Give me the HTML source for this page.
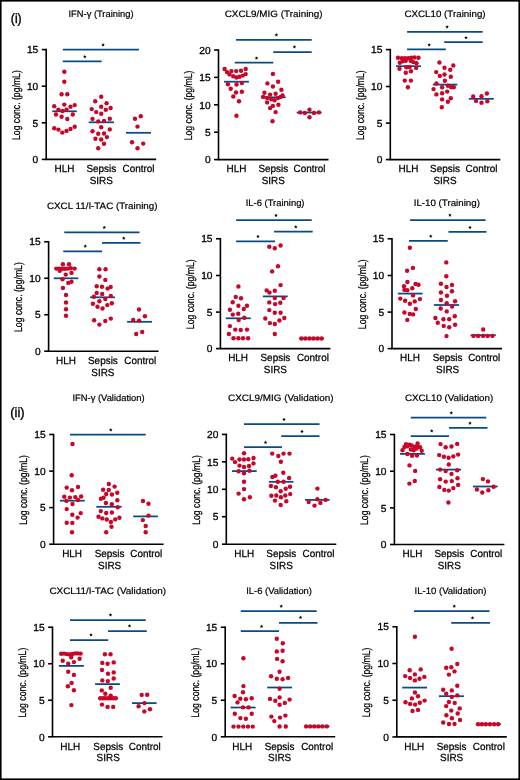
<!DOCTYPE html>
<html><head><meta charset="utf-8"><style>
html,body{margin:0;padding:0;background:#fff;}
svg{display:block;will-change:transform;}
text{font-family:"Liberation Sans",sans-serif;fill:#000;stroke:#000;text-rendering:geometricPrecision;}
circle{fill:#c80628;}
</style></head><body>
<svg width="520" height="780" viewBox="0 0 520 780">
<defs><polygon id="star" points="0.00,-1.90 0.50,-0.69 1.81,-0.59 0.81,0.26 1.12,1.54 0.00,0.85 -1.12,1.54 -0.81,0.26 -1.81,-0.59 -0.50,-0.69" fill="#000"/></defs>
<rect x="0" y="0" width="520" height="780" fill="#fff"/>
<text transform="translate(10.8,22.6) scale(0.225,0.25)" font-size="54.4" style="stroke-width:1.6px">(i)</text>
<text transform="translate(10.3,416.9) scale(0.237,0.25)" font-size="54.4" style="stroke-width:1.6px">(ii)</text>
<g><text transform="translate(68.5,17) scale(0.25,0.25)" font-size="37.2" textLength="260" lengthAdjust="spacingAndGlyphs" style="stroke-width:0.8px">IFN-γ (Training)</text>
<text transform="translate(19.7,105.1) rotate(-90) scale(0.25,0.25)" font-size="44" text-anchor="middle" textLength="279.2" lengthAdjust="spacingAndGlyphs" style="stroke-width:1px">Log conc. (pg/mL)</text>
<text transform="translate(38.3,53.3) scale(0.25,0.25)" font-size="40.8" text-anchor="end" style="stroke-width:1.2px">15</text>
<line x1="41.8" y1="49.6" x2="46.2" y2="49.6" stroke="#000" stroke-width="1.6"/>
<text transform="translate(38.3,89.9) scale(0.25,0.25)" font-size="40.8" text-anchor="end" style="stroke-width:1.2px">10</text>
<line x1="41.8" y1="86.2" x2="46.2" y2="86.2" stroke="#000" stroke-width="1.6"/>
<text transform="translate(38.3,126.5) scale(0.25,0.25)" font-size="40.8" text-anchor="end" style="stroke-width:1.2px">5</text>
<line x1="41.8" y1="122.8" x2="46.2" y2="122.8" stroke="#000" stroke-width="1.6"/>
<text transform="translate(38.3,163.1) scale(0.25,0.25)" font-size="40.8" text-anchor="end" style="stroke-width:1.2px">0</text>
<line x1="41.8" y1="159.4" x2="46.2" y2="159.4" stroke="#000" stroke-width="1.6"/>
<line x1="46.2" y1="48.85" x2="46.2" y2="159.4" stroke="#000" stroke-width="1.6"/>
<line x1="45.45" y1="159.4" x2="156.2" y2="159.4" stroke="#000" stroke-width="1.6"/>
<text transform="translate(64.45,172.1) scale(0.241,0.25)" font-size="41.2" text-anchor="middle" style="stroke-width:1px">HLH</text>
<text transform="translate(101.3,172.1) scale(0.241,0.25)" font-size="41.2" text-anchor="middle" style="stroke-width:1px">Sepsis</text>
<text transform="translate(138.5,172.1) scale(0.241,0.25)" font-size="41.2" text-anchor="middle" style="stroke-width:1px">Control</text>
<text transform="translate(101.3,183.8) scale(0.241,0.25)" font-size="41.2" text-anchor="middle" style="stroke-width:1px">SIRS</text>
<line x1="62.8" y1="49.7" x2="138.9" y2="49.7" stroke="#0a4a84" stroke-width="1.75"/>
<use href="#star" x="103.1" y="45"/>
<line x1="62.8" y1="61.3" x2="101.7" y2="61.3" stroke="#0a4a84" stroke-width="1.75"/>
<use href="#star" x="84.8" y="56.6"/>
<line x1="52.2" y1="111.3" x2="76.8" y2="111.3" stroke="#0a4a84" stroke-width="1.75"/>
<line x1="88.7" y1="122.3" x2="114" y2="122.3" stroke="#0a4a84" stroke-width="1.75"/>
<line x1="126" y1="132.8" x2="151" y2="132.8" stroke="#0a4a84" stroke-width="1.75"/>
<circle cx="64.3" cy="71.8" r="2.2"/>
<circle cx="64.3" cy="81.8" r="2.2"/>
<circle cx="61.6" cy="94.2" r="2.2"/>
<circle cx="67.3" cy="94.2" r="2.2"/>
<circle cx="54.2" cy="106.2" r="2.2"/>
<circle cx="64.3" cy="104.6" r="2.2"/>
<circle cx="70.5" cy="106.7" r="2.2"/>
<circle cx="74.7" cy="105.1" r="2.2"/>
<circle cx="58.4" cy="109.6" r="2.2"/>
<circle cx="62.5" cy="111" r="2.2"/>
<circle cx="66.5" cy="109.7" r="2.2"/>
<circle cx="56" cy="114.5" r="2.2"/>
<circle cx="72.8" cy="114.5" r="2.2"/>
<circle cx="61.6" cy="116.8" r="2.2"/>
<circle cx="67.3" cy="119" r="2.2"/>
<circle cx="54.2" cy="128.3" r="2.2"/>
<circle cx="58.4" cy="129.6" r="2.2"/>
<circle cx="62.3" cy="132.6" r="2.2"/>
<circle cx="66.5" cy="130.9" r="2.2"/>
<circle cx="70.5" cy="129" r="2.2"/>
<circle cx="74.7" cy="126.8" r="2.2"/>
<circle cx="101.2" cy="96.7" r="2.2"/>
<circle cx="95.2" cy="101.3" r="2.2"/>
<circle cx="106.6" cy="103.2" r="2.2"/>
<circle cx="91.7" cy="109.1" r="2.2"/>
<circle cx="101.2" cy="106.8" r="2.2"/>
<circle cx="105.8" cy="109.8" r="2.2"/>
<circle cx="110.6" cy="108" r="2.2"/>
<circle cx="96.2" cy="112.1" r="2.2"/>
<circle cx="101.2" cy="113.7" r="2.2"/>
<circle cx="92.5" cy="118.9" r="2.2"/>
<circle cx="98.2" cy="121.4" r="2.2"/>
<circle cx="104" cy="121" r="2.2"/>
<circle cx="109.8" cy="118.7" r="2.2"/>
<circle cx="101.2" cy="127.3" r="2.2"/>
<circle cx="92.5" cy="131.3" r="2.2"/>
<circle cx="109.8" cy="129.4" r="2.2"/>
<circle cx="98.2" cy="133.7" r="2.2"/>
<circle cx="104" cy="133.5" r="2.2"/>
<circle cx="106.9" cy="137.1" r="2.2"/>
<circle cx="95.4" cy="138.7" r="2.2"/>
<circle cx="101.2" cy="139.5" r="2.2"/>
<circle cx="104" cy="143.7" r="2.2"/>
<circle cx="98.2" cy="148.3" r="2.2"/>
<circle cx="135" cy="118.8" r="2.2"/>
<circle cx="140.8" cy="116.2" r="2.2"/>
<circle cx="137.5" cy="126.6" r="2.2"/>
<circle cx="132" cy="142.2" r="2.2"/>
<circle cx="143.2" cy="143.6" r="2.2"/>
<circle cx="137.5" cy="148.3" r="2.2"/></g>
<g><text transform="translate(224.7,17.1) scale(0.25,0.25)" font-size="37.2" textLength="391.6" lengthAdjust="spacingAndGlyphs" style="stroke-width:0.8px">CXCL9/MIG (Training)</text>
<text transform="translate(192,105.4) rotate(-90) scale(0.25,0.25)" font-size="44" text-anchor="middle" textLength="279.2" lengthAdjust="spacingAndGlyphs" style="stroke-width:1px">Log conc. (pg/mL)</text>
<text transform="translate(210.6,53.7) scale(0.25,0.25)" font-size="40.8" text-anchor="end" style="stroke-width:1.2px">20</text>
<line x1="214.1" y1="50" x2="218.5" y2="50" stroke="#000" stroke-width="1.6"/>
<text transform="translate(210.6,81.05) scale(0.25,0.25)" font-size="40.8" text-anchor="end" style="stroke-width:1.2px">15</text>
<line x1="214.1" y1="77.35" x2="218.5" y2="77.35" stroke="#000" stroke-width="1.6"/>
<text transform="translate(210.6,108.5) scale(0.25,0.25)" font-size="40.8" text-anchor="end" style="stroke-width:1.2px">10</text>
<line x1="214.1" y1="104.8" x2="218.5" y2="104.8" stroke="#000" stroke-width="1.6"/>
<text transform="translate(210.6,135.9) scale(0.25,0.25)" font-size="40.8" text-anchor="end" style="stroke-width:1.2px">5</text>
<line x1="214.1" y1="132.2" x2="218.5" y2="132.2" stroke="#000" stroke-width="1.6"/>
<text transform="translate(210.6,163.3) scale(0.25,0.25)" font-size="40.8" text-anchor="end" style="stroke-width:1.2px">0</text>
<line x1="214.1" y1="159.6" x2="218.5" y2="159.6" stroke="#000" stroke-width="1.6"/>
<line x1="218.5" y1="49.25" x2="218.5" y2="159.6" stroke="#000" stroke-width="1.6"/>
<line x1="217.75" y1="159.6" x2="328.5" y2="159.6" stroke="#000" stroke-width="1.6"/>
<text transform="translate(236.5,172.3) scale(0.241,0.25)" font-size="41.2" text-anchor="middle" style="stroke-width:1px">HLH</text>
<text transform="translate(273.3,172.3) scale(0.241,0.25)" font-size="41.2" text-anchor="middle" style="stroke-width:1px">Sepsis</text>
<text transform="translate(309.5,172.3) scale(0.241,0.25)" font-size="41.2" text-anchor="middle" style="stroke-width:1px">Control</text>
<text transform="translate(273.3,184) scale(0.241,0.25)" font-size="41.2" text-anchor="middle" style="stroke-width:1px">SIRS</text>
<line x1="236.1" y1="39.9" x2="311.7" y2="39.9" stroke="#0a4a84" stroke-width="1.75"/>
<use href="#star" x="276.4" y="35"/>
<line x1="273.3" y1="52.2" x2="311.7" y2="52.2" stroke="#0a4a84" stroke-width="1.75"/>
<use href="#star" x="294.4" y="47"/>
<line x1="234.8" y1="62.7" x2="273.3" y2="62.7" stroke="#0a4a84" stroke-width="1.75"/>
<use href="#star" x="256.5" y="58.2"/>
<line x1="224" y1="81.7" x2="248.9" y2="81.7" stroke="#0a4a84" stroke-width="1.75"/>
<line x1="261" y1="97.3" x2="285.7" y2="97.3" stroke="#0a4a84" stroke-width="1.75"/>
<line x1="296.7" y1="112.6" x2="321.6" y2="112.6" stroke="#0a4a84" stroke-width="1.75"/>
<circle cx="224.6" cy="69" r="2.2"/>
<circle cx="227" cy="72.1" r="2.2"/>
<circle cx="231.4" cy="71.1" r="2.2"/>
<circle cx="236.2" cy="71.1" r="2.2"/>
<circle cx="241" cy="70.8" r="2.2"/>
<circle cx="245.7" cy="69" r="2.2"/>
<circle cx="229.5" cy="74.4" r="2.2"/>
<circle cx="233.3" cy="76.2" r="2.2"/>
<circle cx="236.5" cy="77.5" r="2.2"/>
<circle cx="239.5" cy="76.7" r="2.2"/>
<circle cx="242.7" cy="75.6" r="2.2"/>
<circle cx="245.7" cy="74.1" r="2.2"/>
<circle cx="227.9" cy="84.2" r="2.2"/>
<circle cx="236.5" cy="84.5" r="2.2"/>
<circle cx="241.9" cy="83.1" r="2.2"/>
<circle cx="230.7" cy="88.8" r="2.2"/>
<circle cx="236" cy="92.5" r="2.2"/>
<circle cx="241.9" cy="91.7" r="2.2"/>
<circle cx="233.3" cy="96.5" r="2.2"/>
<circle cx="239" cy="101.3" r="2.2"/>
<circle cx="236.5" cy="115.7" r="2.2"/>
<circle cx="272.9" cy="73.9" r="2.2"/>
<circle cx="267.4" cy="83.4" r="2.2"/>
<circle cx="278.1" cy="81.7" r="2.2"/>
<circle cx="272.9" cy="86.5" r="2.2"/>
<circle cx="281.4" cy="89.8" r="2.2"/>
<circle cx="264.4" cy="92.7" r="2.2"/>
<circle cx="270.1" cy="94.6" r="2.2"/>
<circle cx="275.6" cy="93.8" r="2.2"/>
<circle cx="282.6" cy="95.4" r="2.2"/>
<circle cx="263.1" cy="96.9" r="2.2"/>
<circle cx="267.1" cy="98" r="2.2"/>
<circle cx="271.2" cy="99.3" r="2.2"/>
<circle cx="274.5" cy="100.3" r="2.2"/>
<circle cx="277.9" cy="98" r="2.2"/>
<circle cx="280.6" cy="96.9" r="2.2"/>
<circle cx="267.1" cy="102.4" r="2.2"/>
<circle cx="278.4" cy="104.8" r="2.2"/>
<circle cx="272.9" cy="105.9" r="2.2"/>
<circle cx="270.1" cy="108.1" r="2.2"/>
<circle cx="275.6" cy="112.1" r="2.2"/>
<circle cx="272.5" cy="121.3" r="2.2"/>
<circle cx="300.2" cy="112.4" r="2.2"/>
<circle cx="304.8" cy="112.9" r="2.2"/>
<circle cx="309.5" cy="109.7" r="2.2"/>
<circle cx="314" cy="112.9" r="2.2"/>
<circle cx="318.9" cy="112.4" r="2.2"/>
<circle cx="309.5" cy="117.2" r="2.2"/></g>
<g><text transform="translate(404.4,17.1) scale(0.25,0.25)" font-size="37.2" textLength="324.8" lengthAdjust="spacingAndGlyphs" style="stroke-width:0.8px">CXCL10 (Training)</text>
<text transform="translate(363.8,105.2) rotate(-90) scale(0.25,0.25)" font-size="44" text-anchor="middle" textLength="279.2" lengthAdjust="spacingAndGlyphs" style="stroke-width:1px">Log conc. (pg/mL)</text>
<text transform="translate(382.4,53.3) scale(0.25,0.25)" font-size="40.8" text-anchor="end" style="stroke-width:1.2px">15</text>
<line x1="385.9" y1="49.6" x2="390.3" y2="49.6" stroke="#000" stroke-width="1.6"/>
<text transform="translate(382.4,90.2) scale(0.25,0.25)" font-size="40.8" text-anchor="end" style="stroke-width:1.2px">10</text>
<line x1="385.9" y1="86.5" x2="390.3" y2="86.5" stroke="#000" stroke-width="1.6"/>
<text transform="translate(382.4,126.8) scale(0.25,0.25)" font-size="40.8" text-anchor="end" style="stroke-width:1.2px">5</text>
<line x1="385.9" y1="123.1" x2="390.3" y2="123.1" stroke="#000" stroke-width="1.6"/>
<text transform="translate(382.4,163.3) scale(0.25,0.25)" font-size="40.8" text-anchor="end" style="stroke-width:1.2px">0</text>
<line x1="385.9" y1="159.6" x2="390.3" y2="159.6" stroke="#000" stroke-width="1.6"/>
<line x1="390.3" y1="48.85" x2="390.3" y2="159.6" stroke="#000" stroke-width="1.6"/>
<line x1="389.55" y1="159.6" x2="500.3" y2="159.6" stroke="#000" stroke-width="1.6"/>
<text transform="translate(408.5,172.3) scale(0.241,0.25)" font-size="41.2" text-anchor="middle" style="stroke-width:1px">HLH</text>
<text transform="translate(445,172.3) scale(0.241,0.25)" font-size="41.2" text-anchor="middle" style="stroke-width:1px">Sepsis</text>
<text transform="translate(481.5,172.3) scale(0.241,0.25)" font-size="41.2" text-anchor="middle" style="stroke-width:1px">Control</text>
<text transform="translate(445,184) scale(0.241,0.25)" font-size="41.2" text-anchor="middle" style="stroke-width:1px">SIRS</text>
<line x1="407.1" y1="31.9" x2="482.7" y2="31.9" stroke="#0a4a84" stroke-width="1.75"/>
<use href="#star" x="447.1" y="26.9"/>
<line x1="444.2" y1="42.1" x2="482.7" y2="42.1" stroke="#0a4a84" stroke-width="1.75"/>
<use href="#star" x="466" y="37.7"/>
<line x1="407.1" y1="49.4" x2="445.8" y2="49.4" stroke="#0a4a84" stroke-width="1.75"/>
<use href="#star" x="429.2" y="45"/>
<line x1="396" y1="66.2" x2="421" y2="66.2" stroke="#0a4a84" stroke-width="1.75"/>
<line x1="432.8" y1="84.6" x2="457.3" y2="84.6" stroke="#0a4a84" stroke-width="1.75"/>
<line x1="468.8" y1="98.8" x2="493.8" y2="98.8" stroke="#0a4a84" stroke-width="1.75"/>
<circle cx="398" cy="57.8" r="2.2"/>
<circle cx="401.8" cy="58.3" r="2.2"/>
<circle cx="405" cy="58.3" r="2.2"/>
<circle cx="408.2" cy="58.1" r="2.2"/>
<circle cx="411.3" cy="57.8" r="2.2"/>
<circle cx="414.5" cy="57.5" r="2.2"/>
<circle cx="418.5" cy="57.8" r="2.2"/>
<circle cx="399.8" cy="62.7" r="2.2"/>
<circle cx="402.7" cy="61.2" r="2.2"/>
<circle cx="405.8" cy="60.7" r="2.2"/>
<circle cx="410.7" cy="60.7" r="2.2"/>
<circle cx="413.3" cy="62.1" r="2.2"/>
<circle cx="416.5" cy="63.3" r="2.2"/>
<circle cx="399.5" cy="68.7" r="2.2"/>
<circle cx="406.4" cy="67.3" r="2.2"/>
<circle cx="409.6" cy="67" r="2.2"/>
<circle cx="416.2" cy="67.9" r="2.2"/>
<circle cx="405.8" cy="72.8" r="2.2"/>
<circle cx="411" cy="71.3" r="2.2"/>
<circle cx="404.8" cy="80.6" r="2.2"/>
<circle cx="410.9" cy="80.6" r="2.2"/>
<circle cx="407.9" cy="87.3" r="2.2"/>
<circle cx="439.4" cy="62.5" r="2.2"/>
<circle cx="444.5" cy="67.8" r="2.2"/>
<circle cx="453.3" cy="65.5" r="2.2"/>
<circle cx="450.2" cy="69.8" r="2.2"/>
<circle cx="436.2" cy="72.1" r="2.2"/>
<circle cx="444.5" cy="74.5" r="2.2"/>
<circle cx="439.8" cy="75.9" r="2.2"/>
<circle cx="450.8" cy="76.8" r="2.2"/>
<circle cx="444.9" cy="80.8" r="2.2"/>
<circle cx="436.4" cy="83.5" r="2.2"/>
<circle cx="447.9" cy="85.7" r="2.2"/>
<circle cx="451.2" cy="87.3" r="2.2"/>
<circle cx="453.8" cy="87.3" r="2.2"/>
<circle cx="442.1" cy="87.3" r="2.2"/>
<circle cx="433.5" cy="89.1" r="2.2"/>
<circle cx="447.2" cy="91.6" r="2.2"/>
<circle cx="442.1" cy="93.2" r="2.2"/>
<circle cx="436.4" cy="94.4" r="2.2"/>
<circle cx="442.1" cy="99.4" r="2.2"/>
<circle cx="450.8" cy="98.3" r="2.2"/>
<circle cx="447.9" cy="101.8" r="2.2"/>
<circle cx="441.8" cy="107.2" r="2.2"/>
<circle cx="473.2" cy="96.5" r="2.2"/>
<circle cx="476" cy="100.9" r="2.2"/>
<circle cx="481.5" cy="96.2" r="2.2"/>
<circle cx="481.5" cy="102.7" r="2.2"/>
<circle cx="486.9" cy="93.5" r="2.2"/>
<circle cx="487.3" cy="101.2" r="2.2"/></g>
<g><text transform="translate(47,208.75) scale(0.25,0.25)" font-size="37.2" textLength="442" lengthAdjust="spacingAndGlyphs" style="stroke-width:0.8px">CXCL 11/I-TAC (Training)</text>
<text transform="translate(22.1,297.075) rotate(-90) scale(0.25,0.25)" font-size="44" text-anchor="middle" textLength="279.2" lengthAdjust="spacingAndGlyphs" style="stroke-width:1px">Log conc. (pg/mL)</text>
<text transform="translate(40.7,245.45) scale(0.25,0.25)" font-size="40.8" text-anchor="end" style="stroke-width:1.2px">15</text>
<line x1="44.2" y1="241.75" x2="48.6" y2="241.75" stroke="#000" stroke-width="1.6"/>
<text transform="translate(40.7,281.95) scale(0.25,0.25)" font-size="40.8" text-anchor="end" style="stroke-width:1.2px">10</text>
<line x1="44.2" y1="278.25" x2="48.6" y2="278.25" stroke="#000" stroke-width="1.6"/>
<text transform="translate(40.7,318.45) scale(0.25,0.25)" font-size="40.8" text-anchor="end" style="stroke-width:1.2px">5</text>
<line x1="44.2" y1="314.75" x2="48.6" y2="314.75" stroke="#000" stroke-width="1.6"/>
<text transform="translate(40.7,354.9) scale(0.25,0.25)" font-size="40.8" text-anchor="end" style="stroke-width:1.2px">0</text>
<line x1="44.2" y1="351.2" x2="48.6" y2="351.2" stroke="#000" stroke-width="1.6"/>
<line x1="48.6" y1="241" x2="48.6" y2="351.2" stroke="#000" stroke-width="1.6"/>
<line x1="47.85" y1="351.2" x2="158.6" y2="351.2" stroke="#000" stroke-width="1.6"/>
<text transform="translate(66,363.9) scale(0.241,0.25)" font-size="41.2" text-anchor="middle" style="stroke-width:1px">HLH</text>
<text transform="translate(102.9,363.9) scale(0.241,0.25)" font-size="41.2" text-anchor="middle" style="stroke-width:1px">Sepsis</text>
<text transform="translate(140.25,363.9) scale(0.241,0.25)" font-size="41.2" text-anchor="middle" style="stroke-width:1px">Control</text>
<text transform="translate(102.9,375.6) scale(0.241,0.25)" font-size="41.2" text-anchor="middle" style="stroke-width:1px">SIRS</text>
<line x1="64.25" y1="232.25" x2="139.5" y2="232.25" stroke="#0a4a84" stroke-width="1.75"/>
<use href="#star" x="104.25" y="227.5"/>
<line x1="102" y1="242.75" x2="140.5" y2="242.75" stroke="#0a4a84" stroke-width="1.75"/>
<use href="#star" x="123.75" y="238.25"/>
<line x1="63.25" y1="251.25" x2="102" y2="251.25" stroke="#0a4a84" stroke-width="1.75"/>
<use href="#star" x="85.25" y="246.25"/>
<line x1="53.75" y1="278.3" x2="78.3" y2="278.3" stroke="#0a4a84" stroke-width="1.75"/>
<line x1="90.1" y1="297.3" x2="114.9" y2="297.3" stroke="#0a4a84" stroke-width="1.75"/>
<line x1="127.1" y1="321.8" x2="152" y2="321.8" stroke="#0a4a84" stroke-width="1.75"/>
<circle cx="62.9" cy="264.3" r="2.2"/>
<circle cx="69" cy="264.3" r="2.2"/>
<circle cx="56.25" cy="268.6" r="2.2"/>
<circle cx="59.2" cy="268.8" r="2.2"/>
<circle cx="62.1" cy="268.8" r="2.2"/>
<circle cx="65" cy="268.8" r="2.2"/>
<circle cx="67.9" cy="268.6" r="2.2"/>
<circle cx="70.8" cy="268.3" r="2.2"/>
<circle cx="74.6" cy="268.6" r="2.2"/>
<circle cx="59.8" cy="270.8" r="2.2"/>
<circle cx="65.8" cy="274.6" r="2.2"/>
<circle cx="71.5" cy="272.9" r="2.2"/>
<circle cx="62.5" cy="279.2" r="2.2"/>
<circle cx="68.3" cy="282.9" r="2.2"/>
<circle cx="71.5" cy="281.7" r="2.2"/>
<circle cx="62.9" cy="287.9" r="2.2"/>
<circle cx="66" cy="295" r="2.2"/>
<circle cx="66" cy="302.5" r="2.2"/>
<circle cx="66" cy="309.2" r="2.2"/>
<circle cx="66" cy="315.7" r="2.2"/>
<circle cx="99.4" cy="269.2" r="2.2"/>
<circle cx="105.6" cy="269.2" r="2.2"/>
<circle cx="99.4" cy="276.5" r="2.2"/>
<circle cx="105.3" cy="279.9" r="2.2"/>
<circle cx="96.7" cy="286.3" r="2.2"/>
<circle cx="102" cy="286.7" r="2.2"/>
<circle cx="107.6" cy="288.6" r="2.2"/>
<circle cx="110.7" cy="286.9" r="2.2"/>
<circle cx="96.7" cy="292.9" r="2.2"/>
<circle cx="102.2" cy="294" r="2.2"/>
<circle cx="93.9" cy="296.8" r="2.2"/>
<circle cx="110.8" cy="296" r="2.2"/>
<circle cx="105.3" cy="299" r="2.2"/>
<circle cx="99.4" cy="301.3" r="2.2"/>
<circle cx="92.9" cy="303.8" r="2.2"/>
<circle cx="97.5" cy="306.8" r="2.2"/>
<circle cx="107.3" cy="305.1" r="2.2"/>
<circle cx="111.8" cy="303.3" r="2.2"/>
<circle cx="102.5" cy="308.5" r="2.2"/>
<circle cx="94.1" cy="320.3" r="2.2"/>
<circle cx="99.4" cy="324.6" r="2.2"/>
<circle cx="105.3" cy="321" r="2.2"/>
<circle cx="110.8" cy="318.6" r="2.2"/>
<circle cx="139" cy="309.5" r="2.2"/>
<circle cx="144.9" cy="316.3" r="2.2"/>
<circle cx="133.2" cy="320" r="2.2"/>
<circle cx="139" cy="320.6" r="2.2"/>
<circle cx="142.2" cy="332" r="2.2"/>
<circle cx="136.2" cy="334" r="2.2"/></g>
<g><text transform="translate(245.75,205.5) scale(0.25,0.25)" font-size="37.2" textLength="235" lengthAdjust="spacingAndGlyphs" style="stroke-width:0.8px">IL-6 (Training)</text>
<text transform="translate(193.9,294.275) rotate(-90) scale(0.25,0.25)" font-size="44" text-anchor="middle" textLength="279.2" lengthAdjust="spacingAndGlyphs" style="stroke-width:1px">Log conc. (pg/mL)</text>
<text transform="translate(212.5,242.45) scale(0.25,0.25)" font-size="40.8" text-anchor="end" style="stroke-width:1.2px">15</text>
<line x1="216" y1="238.75" x2="220.4" y2="238.75" stroke="#000" stroke-width="1.6"/>
<text transform="translate(212.5,279.2) scale(0.25,0.25)" font-size="40.8" text-anchor="end" style="stroke-width:1.2px">10</text>
<line x1="216" y1="275.5" x2="220.4" y2="275.5" stroke="#000" stroke-width="1.6"/>
<text transform="translate(212.5,315.8) scale(0.25,0.25)" font-size="40.8" text-anchor="end" style="stroke-width:1.2px">5</text>
<line x1="216" y1="312.1" x2="220.4" y2="312.1" stroke="#000" stroke-width="1.6"/>
<text transform="translate(212.5,352.3) scale(0.25,0.25)" font-size="40.8" text-anchor="end" style="stroke-width:1.2px">0</text>
<line x1="216" y1="348.6" x2="220.4" y2="348.6" stroke="#000" stroke-width="1.6"/>
<line x1="220.4" y1="238" x2="220.4" y2="348.6" stroke="#000" stroke-width="1.6"/>
<line x1="219.65" y1="348.6" x2="330.4" y2="348.6" stroke="#000" stroke-width="1.6"/>
<text transform="translate(238.1,361.3) scale(0.241,0.25)" font-size="41.2" text-anchor="middle" style="stroke-width:1px">HLH</text>
<text transform="translate(275.4,361.3) scale(0.241,0.25)" font-size="41.2" text-anchor="middle" style="stroke-width:1px">Sepsis</text>
<text transform="translate(312.9,361.3) scale(0.241,0.25)" font-size="41.2" text-anchor="middle" style="stroke-width:1px">Control</text>
<text transform="translate(275.4,373) scale(0.241,0.25)" font-size="41.2" text-anchor="middle" style="stroke-width:1px">SIRS</text>
<line x1="236.1" y1="220.2" x2="311.7" y2="220.2" stroke="#0a4a84" stroke-width="1.75"/>
<use href="#star" x="276" y="215.4"/>
<line x1="274.1" y1="231.5" x2="312.7" y2="231.5" stroke="#0a4a84" stroke-width="1.75"/>
<use href="#star" x="295.8" y="227"/>
<line x1="236.1" y1="241.3" x2="275" y2="241.3" stroke="#0a4a84" stroke-width="1.75"/>
<use href="#star" x="258" y="236.5"/>
<line x1="225.75" y1="318.3" x2="250.75" y2="318.3" stroke="#0a4a84" stroke-width="1.75"/>
<line x1="262.9" y1="296.4" x2="287.7" y2="296.4" stroke="#0a4a84" stroke-width="1.75"/>
<line x1="299.2" y1="338.5" x2="323.8" y2="338.5" stroke="#0a4a84" stroke-width="1.75"/>
<circle cx="238.4" cy="286.5" r="2.2"/>
<circle cx="235.75" cy="296.9" r="2.2"/>
<circle cx="241" cy="298.3" r="2.2"/>
<circle cx="232.7" cy="302.3" r="2.2"/>
<circle cx="238.4" cy="305.8" r="2.2"/>
<circle cx="247" cy="305.8" r="2.2"/>
<circle cx="243.8" cy="309" r="2.2"/>
<circle cx="229.9" cy="309.75" r="2.2"/>
<circle cx="232.8" cy="314.6" r="2.2"/>
<circle cx="238.25" cy="313.75" r="2.2"/>
<circle cx="244.3" cy="317.7" r="2.2"/>
<circle cx="238.7" cy="320" r="2.2"/>
<circle cx="229.9" cy="326.1" r="2.2"/>
<circle cx="235.3" cy="329.6" r="2.2"/>
<circle cx="240.75" cy="330" r="2.2"/>
<circle cx="247" cy="329.6" r="2.2"/>
<circle cx="228.9" cy="334" r="2.2"/>
<circle cx="233.5" cy="338.2" r="2.2"/>
<circle cx="238.4" cy="338.2" r="2.2"/>
<circle cx="243" cy="338.2" r="2.2"/>
<circle cx="248.1" cy="338.2" r="2.2"/>
<circle cx="269.3" cy="246.7" r="2.2"/>
<circle cx="274.8" cy="248.3" r="2.2"/>
<circle cx="280.6" cy="245.5" r="2.2"/>
<circle cx="278" cy="266.2" r="2.2"/>
<circle cx="272.1" cy="271.4" r="2.2"/>
<circle cx="280.6" cy="285.1" r="2.2"/>
<circle cx="266.7" cy="290.4" r="2.2"/>
<circle cx="269.5" cy="292.6" r="2.2"/>
<circle cx="274.8" cy="290.8" r="2.2"/>
<circle cx="274.8" cy="298" r="2.2"/>
<circle cx="283.6" cy="298" r="2.2"/>
<circle cx="269.3" cy="302.4" r="2.2"/>
<circle cx="275.1" cy="304.1" r="2.2"/>
<circle cx="280.3" cy="302.8" r="2.2"/>
<circle cx="269.3" cy="310.1" r="2.2"/>
<circle cx="274.8" cy="312.8" r="2.2"/>
<circle cx="280.6" cy="312.8" r="2.2"/>
<circle cx="265.3" cy="318.5" r="2.2"/>
<circle cx="269.9" cy="323.1" r="2.2"/>
<circle cx="274.8" cy="324" r="2.2"/>
<circle cx="279.4" cy="320.5" r="2.2"/>
<circle cx="284.3" cy="318" r="2.2"/>
<circle cx="274.8" cy="334" r="2.2"/>
<circle cx="301.4" cy="338.5" r="2.2"/>
<circle cx="305.4" cy="338.5" r="2.2"/>
<circle cx="309.5" cy="338.5" r="2.2"/>
<circle cx="313.5" cy="338.5" r="2.2"/>
<circle cx="317.5" cy="338.5" r="2.2"/>
<circle cx="321.6" cy="338.5" r="2.2"/></g>
<g><text transform="translate(413.7,206) scale(0.25,0.25)" font-size="37.2" textLength="264.8" lengthAdjust="spacingAndGlyphs" style="stroke-width:0.8px">IL-10 (Training)</text>
<text transform="translate(365.5,294.275) rotate(-90) scale(0.25,0.25)" font-size="44" text-anchor="middle" textLength="279.2" lengthAdjust="spacingAndGlyphs" style="stroke-width:1px">Log conc. (pg/mL)</text>
<text transform="translate(384.1,242.45) scale(0.25,0.25)" font-size="40.8" text-anchor="end" style="stroke-width:1.2px">15</text>
<line x1="387.6" y1="238.75" x2="392" y2="238.75" stroke="#000" stroke-width="1.6"/>
<text transform="translate(384.1,279.2) scale(0.25,0.25)" font-size="40.8" text-anchor="end" style="stroke-width:1.2px">10</text>
<line x1="387.6" y1="275.5" x2="392" y2="275.5" stroke="#000" stroke-width="1.6"/>
<text transform="translate(384.1,315.8) scale(0.25,0.25)" font-size="40.8" text-anchor="end" style="stroke-width:1.2px">5</text>
<line x1="387.6" y1="312.1" x2="392" y2="312.1" stroke="#000" stroke-width="1.6"/>
<text transform="translate(384.1,352.3) scale(0.25,0.25)" font-size="40.8" text-anchor="end" style="stroke-width:1.2px">0</text>
<line x1="387.6" y1="348.6" x2="392" y2="348.6" stroke="#000" stroke-width="1.6"/>
<line x1="392" y1="238" x2="392" y2="348.6" stroke="#000" stroke-width="1.6"/>
<line x1="391.25" y1="348.6" x2="502" y2="348.6" stroke="#000" stroke-width="1.6"/>
<text transform="translate(410,361.3) scale(0.241,0.25)" font-size="41.2" text-anchor="middle" style="stroke-width:1px">HLH</text>
<text transform="translate(447.6,361.3) scale(0.241,0.25)" font-size="41.2" text-anchor="middle" style="stroke-width:1px">Sepsis</text>
<text transform="translate(484.2,361.3) scale(0.241,0.25)" font-size="41.2" text-anchor="middle" style="stroke-width:1px">Control</text>
<text transform="translate(447.6,373) scale(0.241,0.25)" font-size="41.2" text-anchor="middle" style="stroke-width:1px">SIRS</text>
<line x1="410.1" y1="220" x2="485.6" y2="220" stroke="#0a4a84" stroke-width="1.75"/>
<use href="#star" x="449.9" y="215.1"/>
<line x1="448.5" y1="231.75" x2="486.5" y2="231.75" stroke="#0a4a84" stroke-width="1.75"/>
<use href="#star" x="470" y="227.5"/>
<line x1="409" y1="240.75" x2="447.75" y2="240.75" stroke="#0a4a84" stroke-width="1.75"/>
<use href="#star" x="430.75" y="236.25"/>
<line x1="397.8" y1="293.6" x2="422.6" y2="293.6" stroke="#0a4a84" stroke-width="1.75"/>
<line x1="433.9" y1="305" x2="459" y2="305" stroke="#0a4a84" stroke-width="1.75"/>
<line x1="470.6" y1="335.2" x2="495.8" y2="335.2" stroke="#0a4a84" stroke-width="1.75"/>
<circle cx="409.9" cy="247.8" r="2.2"/>
<circle cx="412.9" cy="267.9" r="2.2"/>
<circle cx="407.1" cy="270.8" r="2.2"/>
<circle cx="407.4" cy="282" r="2.2"/>
<circle cx="415.5" cy="283.9" r="2.2"/>
<circle cx="418.5" cy="284.7" r="2.2"/>
<circle cx="404" cy="286.3" r="2.2"/>
<circle cx="412.3" cy="288.3" r="2.2"/>
<circle cx="404.4" cy="289.9" r="2.2"/>
<circle cx="407.3" cy="290.3" r="2.2"/>
<circle cx="413.1" cy="295.4" r="2.2"/>
<circle cx="400.3" cy="298.6" r="2.2"/>
<circle cx="405.1" cy="300.8" r="2.2"/>
<circle cx="409.9" cy="303.8" r="2.2"/>
<circle cx="414.7" cy="301.4" r="2.2"/>
<circle cx="419.9" cy="299.1" r="2.2"/>
<circle cx="415.8" cy="309" r="2.2"/>
<circle cx="404.4" cy="312.5" r="2.2"/>
<circle cx="409.8" cy="313.9" r="2.2"/>
<circle cx="413.1" cy="314.4" r="2.2"/>
<circle cx="407.3" cy="319.9" r="2.2"/>
<circle cx="446.3" cy="262.4" r="2.2"/>
<circle cx="446.3" cy="276.2" r="2.2"/>
<circle cx="440.9" cy="283.8" r="2.2"/>
<circle cx="446.5" cy="287" r="2.2"/>
<circle cx="452" cy="284.9" r="2.2"/>
<circle cx="440.9" cy="292.5" r="2.2"/>
<circle cx="452" cy="291.2" r="2.2"/>
<circle cx="447" cy="295.7" r="2.2"/>
<circle cx="440.9" cy="300" r="2.2"/>
<circle cx="455.1" cy="301.3" r="2.2"/>
<circle cx="446.7" cy="303.2" r="2.2"/>
<circle cx="452.1" cy="306.5" r="2.2"/>
<circle cx="440.7" cy="308.5" r="2.2"/>
<circle cx="446.7" cy="311.4" r="2.2"/>
<circle cx="435.4" cy="318" r="2.2"/>
<circle cx="443.4" cy="319.2" r="2.2"/>
<circle cx="449.2" cy="319.2" r="2.2"/>
<circle cx="454.8" cy="316.3" r="2.2"/>
<circle cx="437.8" cy="322.7" r="2.2"/>
<circle cx="443.7" cy="325.9" r="2.2"/>
<circle cx="449.2" cy="327.3" r="2.2"/>
<circle cx="455.1" cy="324.7" r="2.2"/>
<circle cx="446.5" cy="336.1" r="2.2"/>
<circle cx="483.2" cy="329.5" r="2.2"/>
<circle cx="473.5" cy="335.9" r="2.2"/>
<circle cx="478.1" cy="335.9" r="2.2"/>
<circle cx="483.1" cy="335.9" r="2.2"/>
<circle cx="487.6" cy="335.9" r="2.2"/>
<circle cx="492.4" cy="335.9" r="2.2"/></g>
<g><text transform="translate(72.5,401.3) scale(0.25,0.25)" font-size="37.2" textLength="288.4" lengthAdjust="spacingAndGlyphs" style="stroke-width:0.8px">IFN-γ (Validation)</text>
<text transform="translate(27.1,489.95) rotate(-90) scale(0.25,0.25)" font-size="44" text-anchor="middle" textLength="279.2" lengthAdjust="spacingAndGlyphs" style="stroke-width:1px">Log conc. (pg/mL)</text>
<text transform="translate(45.7,438.2) scale(0.25,0.25)" font-size="40.8" text-anchor="end" style="stroke-width:1.2px">15</text>
<line x1="49.2" y1="434.5" x2="53.6" y2="434.5" stroke="#000" stroke-width="1.6"/>
<text transform="translate(45.7,474.8) scale(0.25,0.25)" font-size="40.8" text-anchor="end" style="stroke-width:1.2px">10</text>
<line x1="49.2" y1="471.1" x2="53.6" y2="471.1" stroke="#000" stroke-width="1.6"/>
<text transform="translate(45.7,511.3) scale(0.25,0.25)" font-size="40.8" text-anchor="end" style="stroke-width:1.2px">5</text>
<line x1="49.2" y1="507.6" x2="53.6" y2="507.6" stroke="#000" stroke-width="1.6"/>
<text transform="translate(45.7,547.9) scale(0.25,0.25)" font-size="40.8" text-anchor="end" style="stroke-width:1.2px">0</text>
<line x1="49.2" y1="544.2" x2="53.6" y2="544.2" stroke="#000" stroke-width="1.6"/>
<line x1="53.6" y1="433.75" x2="53.6" y2="544.2" stroke="#000" stroke-width="1.6"/>
<line x1="52.85" y1="544.2" x2="163.6" y2="544.2" stroke="#000" stroke-width="1.6"/>
<text transform="translate(72.1,556.9) scale(0.241,0.25)" font-size="41.2" text-anchor="middle" style="stroke-width:1px">HLH</text>
<text transform="translate(109.6,556.9) scale(0.241,0.25)" font-size="41.2" text-anchor="middle" style="stroke-width:1px">Sepsis</text>
<text transform="translate(146.25,556.9) scale(0.241,0.25)" font-size="41.2" text-anchor="middle" style="stroke-width:1px">Control</text>
<text transform="translate(109.6,568.6) scale(0.241,0.25)" font-size="41.2" text-anchor="middle" style="stroke-width:1px">SIRS</text>
<line x1="70" y1="434.5" x2="145.75" y2="434.5" stroke="#0a4a84" stroke-width="1.75"/>
<use href="#star" x="110.75" y="430"/>
<line x1="60" y1="500.7" x2="84.7" y2="500.7" stroke="#0a4a84" stroke-width="1.75"/>
<line x1="96.3" y1="506.8" x2="121.7" y2="506.8" stroke="#0a4a84" stroke-width="1.75"/>
<line x1="133.2" y1="516.4" x2="157.9" y2="516.4" stroke="#0a4a84" stroke-width="1.75"/>
<circle cx="72.5" cy="444" r="2.2"/>
<circle cx="71.7" cy="475.3" r="2.2"/>
<circle cx="66.7" cy="487.6" r="2.2"/>
<circle cx="78" cy="486.9" r="2.2"/>
<circle cx="72" cy="490.3" r="2.2"/>
<circle cx="64.3" cy="496.7" r="2.2"/>
<circle cx="69.9" cy="497.6" r="2.2"/>
<circle cx="75.3" cy="497.1" r="2.2"/>
<circle cx="81.1" cy="496.5" r="2.2"/>
<circle cx="66.4" cy="500.9" r="2.2"/>
<circle cx="78" cy="500" r="2.2"/>
<circle cx="72.5" cy="504" r="2.2"/>
<circle cx="66.7" cy="509.1" r="2.2"/>
<circle cx="80.7" cy="513.1" r="2.2"/>
<circle cx="72.3" cy="514.7" r="2.2"/>
<circle cx="77.6" cy="517.6" r="2.2"/>
<circle cx="66.7" cy="522.7" r="2.2"/>
<circle cx="72.3" cy="522.9" r="2.2"/>
<circle cx="72" cy="532.3" r="2.2"/>
<circle cx="108.8" cy="484" r="2.2"/>
<circle cx="114.6" cy="486.6" r="2.2"/>
<circle cx="103.1" cy="489.8" r="2.2"/>
<circle cx="108.8" cy="489.9" r="2.2"/>
<circle cx="106.2" cy="494" r="2.2"/>
<circle cx="111.9" cy="494.5" r="2.2"/>
<circle cx="117.3" cy="492.8" r="2.2"/>
<circle cx="100.9" cy="498.8" r="2.2"/>
<circle cx="103.6" cy="497.8" r="2.2"/>
<circle cx="117.3" cy="500.3" r="2.2"/>
<circle cx="105.9" cy="503" r="2.2"/>
<circle cx="111.8" cy="504.2" r="2.2"/>
<circle cx="117.7" cy="507.2" r="2.2"/>
<circle cx="100.8" cy="511.1" r="2.2"/>
<circle cx="106.2" cy="513" r="2.2"/>
<circle cx="111.9" cy="512.5" r="2.2"/>
<circle cx="98.5" cy="516.8" r="2.2"/>
<circle cx="102.3" cy="518.4" r="2.2"/>
<circle cx="106.8" cy="519.5" r="2.2"/>
<circle cx="110.9" cy="522" r="2.2"/>
<circle cx="115.2" cy="519.4" r="2.2"/>
<circle cx="119.4" cy="517.8" r="2.2"/>
<circle cx="111.5" cy="526.8" r="2.2"/>
<circle cx="106.2" cy="532.2" r="2.2"/>
<circle cx="143" cy="501" r="2.2"/>
<circle cx="148.5" cy="503.8" r="2.2"/>
<circle cx="148.5" cy="515.6" r="2.2"/>
<circle cx="142.8" cy="520.1" r="2.2"/>
<circle cx="145.7" cy="526" r="2.2"/>
<circle cx="145.7" cy="532.3" r="2.2"/></g>
<g><text transform="translate(228.1,401.2) scale(0.25,0.25)" font-size="37.2" textLength="421.6" lengthAdjust="spacingAndGlyphs" style="stroke-width:0.8px">CXCL9/MIG (Validation)</text>
<text transform="translate(199.8,489.9) rotate(-90) scale(0.25,0.25)" font-size="44" text-anchor="middle" textLength="279.2" lengthAdjust="spacingAndGlyphs" style="stroke-width:1px">Log conc. (pg/mL)</text>
<text transform="translate(218.4,438.1) scale(0.25,0.25)" font-size="40.8" text-anchor="end" style="stroke-width:1.2px">20</text>
<line x1="221.9" y1="434.4" x2="226.3" y2="434.4" stroke="#000" stroke-width="1.6"/>
<text transform="translate(218.4,465.55) scale(0.25,0.25)" font-size="40.8" text-anchor="end" style="stroke-width:1.2px">15</text>
<line x1="221.9" y1="461.85" x2="226.3" y2="461.85" stroke="#000" stroke-width="1.6"/>
<text transform="translate(218.4,493) scale(0.25,0.25)" font-size="40.8" text-anchor="end" style="stroke-width:1.2px">10</text>
<line x1="221.9" y1="489.3" x2="226.3" y2="489.3" stroke="#000" stroke-width="1.6"/>
<text transform="translate(218.4,520.4) scale(0.25,0.25)" font-size="40.8" text-anchor="end" style="stroke-width:1.2px">5</text>
<line x1="221.9" y1="516.7" x2="226.3" y2="516.7" stroke="#000" stroke-width="1.6"/>
<text transform="translate(218.4,547.9) scale(0.25,0.25)" font-size="40.8" text-anchor="end" style="stroke-width:1.2px">0</text>
<line x1="221.9" y1="544.2" x2="226.3" y2="544.2" stroke="#000" stroke-width="1.6"/>
<line x1="226.3" y1="433.65" x2="226.3" y2="544.2" stroke="#000" stroke-width="1.6"/>
<line x1="225.55" y1="544.2" x2="336.3" y2="544.2" stroke="#000" stroke-width="1.6"/>
<text transform="translate(244.25,556.9) scale(0.241,0.25)" font-size="41.2" text-anchor="middle" style="stroke-width:1px">HLH</text>
<text transform="translate(281.2,556.9) scale(0.241,0.25)" font-size="41.2" text-anchor="middle" style="stroke-width:1px">Sepsis</text>
<text transform="translate(318.55,556.9) scale(0.241,0.25)" font-size="41.2" text-anchor="middle" style="stroke-width:1px">Control</text>
<text transform="translate(281.2,568.6) scale(0.241,0.25)" font-size="41.2" text-anchor="middle" style="stroke-width:1px">SIRS</text>
<line x1="244" y1="424" x2="319.5" y2="424" stroke="#0a4a84" stroke-width="1.75"/>
<use href="#star" x="284" y="419.5"/>
<line x1="281.25" y1="436" x2="319.5" y2="436" stroke="#0a4a84" stroke-width="1.75"/>
<use href="#star" x="302" y="431.5"/>
<line x1="244" y1="447" x2="282" y2="447" stroke="#0a4a84" stroke-width="1.75"/>
<use href="#star" x="265.5" y="442.5"/>
<line x1="232" y1="471.1" x2="256.7" y2="471.1" stroke="#0a4a84" stroke-width="1.75"/>
<line x1="268.8" y1="481.8" x2="293.4" y2="481.8" stroke="#0a4a84" stroke-width="1.75"/>
<line x1="305" y1="499.9" x2="329.6" y2="499.9" stroke="#0a4a84" stroke-width="1.75"/>
<circle cx="244" cy="453.2" r="2.2"/>
<circle cx="232.2" cy="458.6" r="2.2"/>
<circle cx="235" cy="462.1" r="2.2"/>
<circle cx="239.5" cy="459.5" r="2.2"/>
<circle cx="243.9" cy="459.5" r="2.2"/>
<circle cx="248.3" cy="459.3" r="2.2"/>
<circle cx="253.5" cy="458" r="2.2"/>
<circle cx="253.5" cy="463.4" r="2.2"/>
<circle cx="239.5" cy="465.6" r="2.2"/>
<circle cx="244" cy="467" r="2.2"/>
<circle cx="249" cy="466" r="2.2"/>
<circle cx="238.6" cy="471.3" r="2.2"/>
<circle cx="249.5" cy="470.8" r="2.2"/>
<circle cx="244" cy="473.3" r="2.2"/>
<circle cx="244" cy="481.7" r="2.2"/>
<circle cx="244" cy="489.1" r="2.2"/>
<circle cx="238.6" cy="493.6" r="2.2"/>
<circle cx="244" cy="499.3" r="2.2"/>
<circle cx="249.9" cy="497.2" r="2.2"/>
<circle cx="272.2" cy="453.6" r="2.2"/>
<circle cx="278.3" cy="456" r="2.2"/>
<circle cx="283.5" cy="453.6" r="2.2"/>
<circle cx="289.5" cy="453.6" r="2.2"/>
<circle cx="280.9" cy="461.7" r="2.2"/>
<circle cx="283.3" cy="472.8" r="2.2"/>
<circle cx="272.4" cy="477" r="2.2"/>
<circle cx="275.4" cy="475.8" r="2.2"/>
<circle cx="289.1" cy="478" r="2.2"/>
<circle cx="277.8" cy="481.8" r="2.2"/>
<circle cx="283.6" cy="481.8" r="2.2"/>
<circle cx="270.9" cy="486" r="2.2"/>
<circle cx="275.9" cy="487.3" r="2.2"/>
<circle cx="285.7" cy="488.7" r="2.2"/>
<circle cx="290" cy="486.7" r="2.2"/>
<circle cx="280.7" cy="491.3" r="2.2"/>
<circle cx="271.4" cy="495.7" r="2.2"/>
<circle cx="276.3" cy="495.5" r="2.2"/>
<circle cx="280.9" cy="497.3" r="2.2"/>
<circle cx="285.3" cy="495.5" r="2.2"/>
<circle cx="290.2" cy="494.1" r="2.2"/>
<circle cx="275" cy="500.6" r="2.2"/>
<circle cx="286.3" cy="501.3" r="2.2"/>
<circle cx="280.7" cy="505" r="2.2"/>
<circle cx="317.4" cy="488.6" r="2.2"/>
<circle cx="317.4" cy="499.2" r="2.2"/>
<circle cx="325.6" cy="499.9" r="2.2"/>
<circle cx="308.7" cy="502.1" r="2.2"/>
<circle cx="320.4" cy="502.9" r="2.2"/>
<circle cx="314.5" cy="505.6" r="2.2"/></g>
<g><text transform="translate(405,401.2) scale(0.25,0.25)" font-size="37.2" textLength="352.8" lengthAdjust="spacingAndGlyphs" style="stroke-width:0.8px">CXCL10 (Validation)</text>
<text transform="translate(367.9,490.1) rotate(-90) scale(0.25,0.25)" font-size="44" text-anchor="middle" textLength="279.2" lengthAdjust="spacingAndGlyphs" style="stroke-width:1px">Log conc. (pg/mL)</text>
<text transform="translate(386.5,438.2) scale(0.25,0.25)" font-size="40.8" text-anchor="end" style="stroke-width:1.2px">15</text>
<line x1="390" y1="434.5" x2="394.4" y2="434.5" stroke="#000" stroke-width="1.6"/>
<text transform="translate(386.5,474.95) scale(0.25,0.25)" font-size="40.8" text-anchor="end" style="stroke-width:1.2px">10</text>
<line x1="390" y1="471.25" x2="394.4" y2="471.25" stroke="#000" stroke-width="1.6"/>
<text transform="translate(386.5,511.6) scale(0.25,0.25)" font-size="40.8" text-anchor="end" style="stroke-width:1.2px">5</text>
<line x1="390" y1="507.9" x2="394.4" y2="507.9" stroke="#000" stroke-width="1.6"/>
<text transform="translate(386.5,548.2) scale(0.25,0.25)" font-size="40.8" text-anchor="end" style="stroke-width:1.2px">0</text>
<line x1="390" y1="544.5" x2="394.4" y2="544.5" stroke="#000" stroke-width="1.6"/>
<line x1="394.4" y1="433.75" x2="394.4" y2="544.5" stroke="#000" stroke-width="1.6"/>
<line x1="393.65" y1="544.5" x2="504.4" y2="544.5" stroke="#000" stroke-width="1.6"/>
<text transform="translate(412.55,557.2) scale(0.241,0.25)" font-size="41.2" text-anchor="middle" style="stroke-width:1px">HLH</text>
<text transform="translate(449.3,557.2) scale(0.241,0.25)" font-size="41.2" text-anchor="middle" style="stroke-width:1px">Sepsis</text>
<text transform="translate(486.25,557.2) scale(0.241,0.25)" font-size="41.2" text-anchor="middle" style="stroke-width:1px">Control</text>
<text transform="translate(449.3,568.9) scale(0.241,0.25)" font-size="41.2" text-anchor="middle" style="stroke-width:1px">SIRS</text>
<line x1="410.75" y1="417.5" x2="486.25" y2="417.5" stroke="#0a4a84" stroke-width="1.75"/>
<use href="#star" x="451.25" y="413"/>
<line x1="449" y1="427.75" x2="487.5" y2="427.75" stroke="#0a4a84" stroke-width="1.75"/>
<use href="#star" x="470" y="423.25"/>
<line x1="410.75" y1="436" x2="449" y2="436" stroke="#0a4a84" stroke-width="1.75"/>
<use href="#star" x="431.75" y="431"/>
<line x1="400" y1="453.9" x2="424.9" y2="453.9" stroke="#0a4a84" stroke-width="1.75"/>
<line x1="436" y1="469.6" x2="461" y2="469.6" stroke="#0a4a84" stroke-width="1.75"/>
<line x1="473" y1="486.5" x2="497.7" y2="486.5" stroke="#0a4a84" stroke-width="1.75"/>
<circle cx="406" cy="444.1" r="2.2"/>
<circle cx="409.5" cy="444.7" r="2.2"/>
<circle cx="417.6" cy="443.4" r="2.2"/>
<circle cx="404.4" cy="447" r="2.2"/>
<circle cx="407.3" cy="446.3" r="2.2"/>
<circle cx="411.5" cy="445.5" r="2.2"/>
<circle cx="414.3" cy="446.7" r="2.2"/>
<circle cx="417.2" cy="446" r="2.2"/>
<circle cx="420.1" cy="447.3" r="2.2"/>
<circle cx="402.5" cy="450.2" r="2.2"/>
<circle cx="410.8" cy="449.5" r="2.2"/>
<circle cx="413.7" cy="450.2" r="2.2"/>
<circle cx="416.6" cy="448.6" r="2.2"/>
<circle cx="421.7" cy="450.7" r="2.2"/>
<circle cx="407.3" cy="454" r="2.2"/>
<circle cx="412.1" cy="455.8" r="2.2"/>
<circle cx="416.9" cy="455.6" r="2.2"/>
<circle cx="409.5" cy="465.4" r="2.2"/>
<circle cx="415.2" cy="470.9" r="2.2"/>
<circle cx="414.8" cy="481" r="2.2"/>
<circle cx="409.4" cy="483.6" r="2.2"/>
<circle cx="440.5" cy="444.1" r="2.2"/>
<circle cx="445.7" cy="447.2" r="2.2"/>
<circle cx="451.5" cy="446.5" r="2.2"/>
<circle cx="457.2" cy="443.9" r="2.2"/>
<circle cx="439.2" cy="455.1" r="2.2"/>
<circle cx="443.9" cy="456.7" r="2.2"/>
<circle cx="448.6" cy="457.8" r="2.2"/>
<circle cx="453.3" cy="456.4" r="2.2"/>
<circle cx="458.1" cy="454.6" r="2.2"/>
<circle cx="448.8" cy="464.5" r="2.2"/>
<circle cx="440.1" cy="469.6" r="2.2"/>
<circle cx="445.7" cy="471.1" r="2.2"/>
<circle cx="451.5" cy="473.9" r="2.2"/>
<circle cx="457.2" cy="470.3" r="2.2"/>
<circle cx="440.1" cy="479.2" r="2.2"/>
<circle cx="445.7" cy="481.6" r="2.2"/>
<circle cx="451.8" cy="481.1" r="2.2"/>
<circle cx="457.5" cy="478.3" r="2.2"/>
<circle cx="439.4" cy="487" r="2.2"/>
<circle cx="444.3" cy="489.9" r="2.2"/>
<circle cx="448.8" cy="490.6" r="2.2"/>
<circle cx="453.3" cy="488.1" r="2.2"/>
<circle cx="458.1" cy="484.9" r="2.2"/>
<circle cx="448.4" cy="502.5" r="2.2"/>
<circle cx="482.9" cy="479.1" r="2.2"/>
<circle cx="488" cy="481.4" r="2.2"/>
<circle cx="493.6" cy="486.8" r="2.2"/>
<circle cx="476.9" cy="489.5" r="2.2"/>
<circle cx="488.3" cy="490.2" r="2.2"/>
<circle cx="482.3" cy="492.5" r="2.2"/></g>
<g><text transform="translate(49.4,594.3) scale(0.25,0.25)" font-size="37.2" textLength="466.4" lengthAdjust="spacingAndGlyphs" style="stroke-width:0.8px">CXCL11/I-TAC (Validation)</text>
<text transform="translate(26,682.625) rotate(-90) scale(0.25,0.25)" font-size="44" text-anchor="middle" textLength="279.2" lengthAdjust="spacingAndGlyphs" style="stroke-width:1px">Log conc. (pg/mL)</text>
<text transform="translate(44.6,630.95) scale(0.25,0.25)" font-size="40.8" text-anchor="end" style="stroke-width:1.2px">15</text>
<line x1="48.1" y1="627.25" x2="52.5" y2="627.25" stroke="#000" stroke-width="1.6"/>
<text transform="translate(44.6,667.45) scale(0.25,0.25)" font-size="40.8" text-anchor="end" style="stroke-width:1.2px">10</text>
<line x1="48.1" y1="663.75" x2="52.5" y2="663.75" stroke="#000" stroke-width="1.6"/>
<text transform="translate(44.6,703.95) scale(0.25,0.25)" font-size="40.8" text-anchor="end" style="stroke-width:1.2px">5</text>
<line x1="48.1" y1="700.25" x2="52.5" y2="700.25" stroke="#000" stroke-width="1.6"/>
<text transform="translate(44.6,740.5) scale(0.25,0.25)" font-size="40.8" text-anchor="end" style="stroke-width:1.2px">0</text>
<line x1="48.1" y1="736.8" x2="52.5" y2="736.8" stroke="#000" stroke-width="1.6"/>
<line x1="52.5" y1="626.5" x2="52.5" y2="736.8" stroke="#000" stroke-width="1.6"/>
<line x1="51.75" y1="736.8" x2="162.5" y2="736.8" stroke="#000" stroke-width="1.6"/>
<text transform="translate(70.25,749.5) scale(0.241,0.25)" font-size="41.2" text-anchor="middle" style="stroke-width:1px">HLH</text>
<text transform="translate(108.2,749.5) scale(0.241,0.25)" font-size="41.2" text-anchor="middle" style="stroke-width:1px">Sepsis</text>
<text transform="translate(144.8,749.5) scale(0.241,0.25)" font-size="41.2" text-anchor="middle" style="stroke-width:1px">Control</text>
<text transform="translate(108.2,761.2) scale(0.241,0.25)" font-size="41.2" text-anchor="middle" style="stroke-width:1px">SIRS</text>
<line x1="70" y1="620" x2="145.75" y2="620" stroke="#0a4a84" stroke-width="1.75"/>
<use href="#star" x="110.5" y="615"/>
<line x1="108" y1="631" x2="146.75" y2="631" stroke="#0a4a84" stroke-width="1.75"/>
<use href="#star" x="129.5" y="626"/>
<line x1="70" y1="640" x2="108.25" y2="640" stroke="#0a4a84" stroke-width="1.75"/>
<use href="#star" x="91" y="635"/>
<line x1="58.9" y1="665.9" x2="83.9" y2="665.9" stroke="#0a4a84" stroke-width="1.75"/>
<line x1="95.1" y1="684.1" x2="119.9" y2="684.1" stroke="#0a4a84" stroke-width="1.75"/>
<line x1="132" y1="703.1" x2="156.6" y2="703.1" stroke="#0a4a84" stroke-width="1.75"/>
<circle cx="61.2" cy="653.8" r="2.2"/>
<circle cx="64" cy="653.6" r="2.2"/>
<circle cx="66.8" cy="654.1" r="2.2"/>
<circle cx="69.5" cy="654.4" r="2.2"/>
<circle cx="72.2" cy="654" r="2.2"/>
<circle cx="75" cy="653.4" r="2.2"/>
<circle cx="77.8" cy="653.4" r="2.2"/>
<circle cx="80.6" cy="653.6" r="2.2"/>
<circle cx="71.2" cy="657.2" r="2.2"/>
<circle cx="62.7" cy="660.7" r="2.2"/>
<circle cx="73.9" cy="662.1" r="2.2"/>
<circle cx="79.6" cy="658.7" r="2.2"/>
<circle cx="68.2" cy="663.6" r="2.2"/>
<circle cx="68.2" cy="671.8" r="2.2"/>
<circle cx="73.9" cy="674.9" r="2.2"/>
<circle cx="71.6" cy="682.9" r="2.2"/>
<circle cx="67.9" cy="686.2" r="2.2"/>
<circle cx="73.9" cy="690.3" r="2.2"/>
<circle cx="71.4" cy="705.1" r="2.2"/>
<circle cx="104.9" cy="654.2" r="2.2"/>
<circle cx="110.5" cy="654.2" r="2.2"/>
<circle cx="102.3" cy="662.9" r="2.2"/>
<circle cx="107.6" cy="663.8" r="2.2"/>
<circle cx="113.7" cy="662.4" r="2.2"/>
<circle cx="102" cy="670" r="2.2"/>
<circle cx="108" cy="673.8" r="2.2"/>
<circle cx="113.7" cy="672.4" r="2.2"/>
<circle cx="102.3" cy="680.4" r="2.2"/>
<circle cx="107.8" cy="681.1" r="2.2"/>
<circle cx="113.7" cy="678.5" r="2.2"/>
<circle cx="110.7" cy="687.8" r="2.2"/>
<circle cx="101.8" cy="690.4" r="2.2"/>
<circle cx="105.3" cy="693.8" r="2.2"/>
<circle cx="110.7" cy="695.6" r="2.2"/>
<circle cx="100.2" cy="698.2" r="2.2"/>
<circle cx="102.7" cy="698.2" r="2.2"/>
<circle cx="105.1" cy="698.2" r="2.2"/>
<circle cx="108" cy="698.2" r="2.2"/>
<circle cx="110.5" cy="698.2" r="2.2"/>
<circle cx="113.3" cy="698.2" r="2.2"/>
<circle cx="115.8" cy="698.2" r="2.2"/>
<circle cx="102" cy="704.6" r="2.2"/>
<circle cx="107.6" cy="706.9" r="2.2"/>
<circle cx="113.2" cy="706.9" r="2.2"/>
<circle cx="141.7" cy="694.9" r="2.2"/>
<circle cx="147.2" cy="694.8" r="2.2"/>
<circle cx="144.5" cy="703.1" r="2.2"/>
<circle cx="138.6" cy="706.2" r="2.2"/>
<circle cx="150" cy="709.2" r="2.2"/>
<circle cx="144.3" cy="711.4" r="2.2"/></g>
<g><text transform="translate(246.2,593.8) scale(0.25,0.25)" font-size="37.2" textLength="263.2" lengthAdjust="spacingAndGlyphs" style="stroke-width:0.8px">IL-6 (Validation)</text>
<text transform="translate(198.7,682.625) rotate(-90) scale(0.25,0.25)" font-size="44" text-anchor="middle" textLength="279.2" lengthAdjust="spacingAndGlyphs" style="stroke-width:1px">Log conc. (pg/mL)</text>
<text transform="translate(217.3,630.95) scale(0.25,0.25)" font-size="40.8" text-anchor="end" style="stroke-width:1.2px">15</text>
<line x1="220.8" y1="627.25" x2="225.2" y2="627.25" stroke="#000" stroke-width="1.6"/>
<text transform="translate(217.3,667.45) scale(0.25,0.25)" font-size="40.8" text-anchor="end" style="stroke-width:1.2px">10</text>
<line x1="220.8" y1="663.75" x2="225.2" y2="663.75" stroke="#000" stroke-width="1.6"/>
<text transform="translate(217.3,703.95) scale(0.25,0.25)" font-size="40.8" text-anchor="end" style="stroke-width:1.2px">5</text>
<line x1="220.8" y1="700.25" x2="225.2" y2="700.25" stroke="#000" stroke-width="1.6"/>
<text transform="translate(217.3,740.5) scale(0.25,0.25)" font-size="40.8" text-anchor="end" style="stroke-width:1.2px">0</text>
<line x1="220.8" y1="736.8" x2="225.2" y2="736.8" stroke="#000" stroke-width="1.6"/>
<line x1="225.2" y1="626.5" x2="225.2" y2="736.8" stroke="#000" stroke-width="1.6"/>
<line x1="224.45" y1="736.8" x2="335.2" y2="736.8" stroke="#000" stroke-width="1.6"/>
<text transform="translate(242.25,749.5) scale(0.241,0.25)" font-size="41.2" text-anchor="middle" style="stroke-width:1px">HLH</text>
<text transform="translate(279.6,749.5) scale(0.241,0.25)" font-size="41.2" text-anchor="middle" style="stroke-width:1px">Sepsis</text>
<text transform="translate(317.15,749.5) scale(0.241,0.25)" font-size="41.2" text-anchor="middle" style="stroke-width:1px">Control</text>
<text transform="translate(279.6,761.2) scale(0.241,0.25)" font-size="41.2" text-anchor="middle" style="stroke-width:1px">SIRS</text>
<line x1="240.75" y1="611" x2="316.75" y2="611" stroke="#0a4a84" stroke-width="1.75"/>
<use href="#star" x="281.25" y="606.25"/>
<line x1="279" y1="622.75" x2="317.5" y2="622.75" stroke="#0a4a84" stroke-width="1.75"/>
<use href="#star" x="300.5" y="617.5"/>
<line x1="240.75" y1="631" x2="279" y2="631" stroke="#0a4a84" stroke-width="1.75"/>
<use href="#star" x="261.5" y="626.5"/>
<line x1="230.6" y1="707.5" x2="255.6" y2="707.5" stroke="#0a4a84" stroke-width="1.75"/>
<line x1="267.2" y1="687.5" x2="292" y2="687.5" stroke="#0a4a84" stroke-width="1.75"/>
<line x1="305.3" y1="726.4" x2="329.5" y2="726.4" stroke="#0a4a84" stroke-width="1.75"/>
<circle cx="243.4" cy="658.2" r="2.2"/>
<circle cx="243.4" cy="686.1" r="2.2"/>
<circle cx="243" cy="692.3" r="2.2"/>
<circle cx="234.6" cy="696" r="2.2"/>
<circle cx="240.3" cy="698.7" r="2.2"/>
<circle cx="245.9" cy="699.3" r="2.2"/>
<circle cx="251.7" cy="698.2" r="2.2"/>
<circle cx="237.5" cy="702.4" r="2.2"/>
<circle cx="243" cy="707.4" r="2.2"/>
<circle cx="248.5" cy="707.4" r="2.2"/>
<circle cx="234.8" cy="713.7" r="2.2"/>
<circle cx="251.7" cy="713.8" r="2.2"/>
<circle cx="240.4" cy="718.1" r="2.2"/>
<circle cx="245.9" cy="718.7" r="2.2"/>
<circle cx="233.5" cy="726.6" r="2.2"/>
<circle cx="238.5" cy="726.6" r="2.2"/>
<circle cx="243.3" cy="726.6" r="2.2"/>
<circle cx="248" cy="726.6" r="2.2"/>
<circle cx="252.7" cy="726.6" r="2.2"/>
<circle cx="276.8" cy="638.7" r="2.2"/>
<circle cx="282.8" cy="643.3" r="2.2"/>
<circle cx="276.8" cy="651.5" r="2.2"/>
<circle cx="282.6" cy="650.8" r="2.2"/>
<circle cx="277.1" cy="658.9" r="2.2"/>
<circle cx="282.6" cy="661.2" r="2.2"/>
<circle cx="279.6" cy="671.7" r="2.2"/>
<circle cx="271.1" cy="676.2" r="2.2"/>
<circle cx="276.8" cy="678.8" r="2.2"/>
<circle cx="282.6" cy="679.2" r="2.2"/>
<circle cx="288.1" cy="677.9" r="2.2"/>
<circle cx="279.6" cy="688.7" r="2.2"/>
<circle cx="270" cy="698.9" r="2.2"/>
<circle cx="275.3" cy="700.8" r="2.2"/>
<circle cx="279.6" cy="697.4" r="2.2"/>
<circle cx="289.6" cy="699.6" r="2.2"/>
<circle cx="284.8" cy="702.9" r="2.2"/>
<circle cx="279.6" cy="704.8" r="2.2"/>
<circle cx="271.4" cy="716.6" r="2.2"/>
<circle cx="274.3" cy="721.1" r="2.2"/>
<circle cx="280" cy="717.6" r="2.2"/>
<circle cx="285.4" cy="715.6" r="2.2"/>
<circle cx="279.6" cy="726.5" r="2.2"/>
<circle cx="285.8" cy="726.5" r="2.2"/>
<circle cx="306.1" cy="726.4" r="2.2"/>
<circle cx="310.2" cy="726.4" r="2.2"/>
<circle cx="314.3" cy="726.4" r="2.2"/>
<circle cx="318.4" cy="726.4" r="2.2"/>
<circle cx="322.4" cy="726.4" r="2.2"/>
<circle cx="326.7" cy="726.4" r="2.2"/></g>
<g><text transform="translate(414.6,593.8) scale(0.25,0.25)" font-size="37.2" textLength="287.6" lengthAdjust="spacingAndGlyphs" style="stroke-width:0.8px">IL-10 (Validation)</text>
<text transform="translate(370.3,682.425) rotate(-90) scale(0.25,0.25)" font-size="44" text-anchor="middle" textLength="279.2" lengthAdjust="spacingAndGlyphs" style="stroke-width:1px">Log conc. (pg/mL)</text>
<text transform="translate(388.9,630.45) scale(0.25,0.25)" font-size="40.8" text-anchor="end" style="stroke-width:1.2px">15</text>
<line x1="392.4" y1="626.75" x2="396.8" y2="626.75" stroke="#000" stroke-width="1.6"/>
<text transform="translate(388.9,667.2) scale(0.25,0.25)" font-size="40.8" text-anchor="end" style="stroke-width:1.2px">10</text>
<line x1="392.4" y1="663.5" x2="396.8" y2="663.5" stroke="#000" stroke-width="1.6"/>
<text transform="translate(388.9,703.95) scale(0.25,0.25)" font-size="40.8" text-anchor="end" style="stroke-width:1.2px">5</text>
<line x1="392.4" y1="700.25" x2="396.8" y2="700.25" stroke="#000" stroke-width="1.6"/>
<text transform="translate(388.9,740.6) scale(0.25,0.25)" font-size="40.8" text-anchor="end" style="stroke-width:1.2px">0</text>
<line x1="392.4" y1="736.9" x2="396.8" y2="736.9" stroke="#000" stroke-width="1.6"/>
<line x1="396.8" y1="626" x2="396.8" y2="736.9" stroke="#000" stroke-width="1.6"/>
<line x1="396.05" y1="736.9" x2="506.8" y2="736.9" stroke="#000" stroke-width="1.6"/>
<text transform="translate(414.25,749.6) scale(0.241,0.25)" font-size="41.2" text-anchor="middle" style="stroke-width:1px">HLH</text>
<text transform="translate(451.6,749.6) scale(0.241,0.25)" font-size="41.2" text-anchor="middle" style="stroke-width:1px">Sepsis</text>
<text transform="translate(488.85,749.6) scale(0.241,0.25)" font-size="41.2" text-anchor="middle" style="stroke-width:1px">Control</text>
<text transform="translate(451.6,761.3) scale(0.241,0.25)" font-size="41.2" text-anchor="middle" style="stroke-width:1px">SIRS</text>
<line x1="414" y1="611" x2="489.5" y2="611" stroke="#0a4a84" stroke-width="1.75"/>
<use href="#star" x="454.25" y="606.25"/>
<line x1="451.25" y1="622.75" x2="490" y2="622.75" stroke="#0a4a84" stroke-width="1.75"/>
<use href="#star" x="472.5" y="618"/>
<line x1="402.2" y1="687.6" x2="427" y2="687.6" stroke="#0a4a84" stroke-width="1.75"/>
<line x1="438.9" y1="696.2" x2="463.9" y2="696.2" stroke="#0a4a84" stroke-width="1.75"/>
<line x1="475.8" y1="724.2" x2="500.8" y2="724.2" stroke="#0a4a84" stroke-width="1.75"/>
<circle cx="414.9" cy="636.8" r="2.2"/>
<circle cx="409.7" cy="670.2" r="2.2"/>
<circle cx="420.7" cy="669.4" r="2.2"/>
<circle cx="414.9" cy="674.4" r="2.2"/>
<circle cx="405.2" cy="676.1" r="2.2"/>
<circle cx="410.1" cy="678" r="2.2"/>
<circle cx="414.9" cy="680.4" r="2.2"/>
<circle cx="419.5" cy="678.8" r="2.2"/>
<circle cx="424.3" cy="676.9" r="2.2"/>
<circle cx="414.9" cy="692.5" r="2.2"/>
<circle cx="418" cy="696.2" r="2.2"/>
<circle cx="411.9" cy="698.4" r="2.2"/>
<circle cx="405.5" cy="702.2" r="2.2"/>
<circle cx="410.1" cy="703.9" r="2.2"/>
<circle cx="415.1" cy="704.6" r="2.2"/>
<circle cx="419.8" cy="702.8" r="2.2"/>
<circle cx="424.6" cy="700.6" r="2.2"/>
<circle cx="412.5" cy="711" r="2.2"/>
<circle cx="418" cy="709.9" r="2.2"/>
<circle cx="451.6" cy="648.7" r="2.2"/>
<circle cx="457.3" cy="664" r="2.2"/>
<circle cx="446.2" cy="667.7" r="2.2"/>
<circle cx="451.3" cy="667.3" r="2.2"/>
<circle cx="454.5" cy="671.4" r="2.2"/>
<circle cx="448.9" cy="674.6" r="2.2"/>
<circle cx="457.3" cy="685.8" r="2.2"/>
<circle cx="443.2" cy="689.8" r="2.2"/>
<circle cx="451.8" cy="690.4" r="2.2"/>
<circle cx="446.2" cy="693.7" r="2.2"/>
<circle cx="451.8" cy="696.9" r="2.2"/>
<circle cx="457.3" cy="695.4" r="2.2"/>
<circle cx="448.9" cy="702" r="2.2"/>
<circle cx="454.7" cy="702.9" r="2.2"/>
<circle cx="446.2" cy="706.1" r="2.2"/>
<circle cx="459.7" cy="708.4" r="2.2"/>
<circle cx="451.2" cy="710.6" r="2.2"/>
<circle cx="457.7" cy="713.5" r="2.2"/>
<circle cx="446.4" cy="715.2" r="2.2"/>
<circle cx="451.9" cy="718.2" r="2.2"/>
<circle cx="460" cy="720" r="2.2"/>
<circle cx="443.2" cy="722.5" r="2.2"/>
<circle cx="449" cy="724" r="2.2"/>
<circle cx="454.5" cy="723.9" r="2.2"/>
<circle cx="478.1" cy="724.2" r="2.2"/>
<circle cx="481.9" cy="724.2" r="2.2"/>
<circle cx="485.8" cy="724.2" r="2.2"/>
<circle cx="490" cy="724.2" r="2.2"/>
<circle cx="494.2" cy="724.2" r="2.2"/>
<circle cx="498.1" cy="724.2" r="2.2"/></g>
<rect x="0.8" y="0.8" width="518.4" height="778.4" fill="none" stroke="#000" stroke-width="1.6"/>
</svg>
</body></html>
